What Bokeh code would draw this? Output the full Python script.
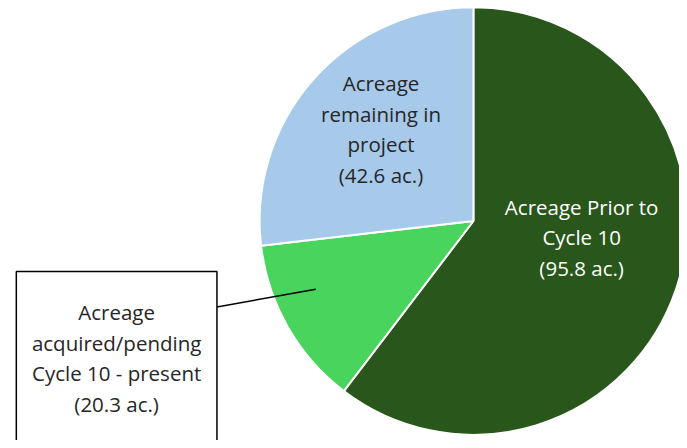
import math
from bokeh.plotting import figure
from bokeh.models import Range1d
from bokeh.core.properties import value
from bokeh.embed import file_html
from bokeh.resources import INLINE

# ---- data ----
labels = [
    "Acreage Prior to\nCycle 10\n(95.8 ac.)",
    "Acreage\nacquired/pending\nCycle 10 - present\n(20.3 ac.)",
    "Acreage\nremaining in\nproject\n(42.6 ac.)",
]
acres = [95.8, 20.3, 42.6]
colors = ["#29561a", "#48d45d", "#a7c9ea"]
text_colors = ["#ffffff", "#262626", "#262626"]

W, H = 679, 440
p = figure(width=W, height=H, output_backend="svg", toolbar_location=None,
           x_range=Range1d(0, W), y_range=Range1d(0, H), min_border=0)
p.axis.visible = False
p.grid.visible = False
p.outline_line_color = None
p.background_fill_color = "white"

KX, KY = W / 687, H / 448
def sx(x):
    return x * KX
def sy(y):
    return H - y * KY

# pie
cx, cy, r = sx(478.5), sy(224.5), 217 * (KX + KY) / 2
total = sum(acres)
starts, ends = [], []
a = math.pi / 2
for v in acres:
    starts.append(a)
    a -= 2 * math.pi * v / total
    ends.append(a)
p.wedge(x=[cx] * 3, y=[cy] * 3, radius=r, start_angle=starts, end_angle=ends,
        direction="clock", fill_color=colors, line_color="white", line_width=2)

font = value("Open Sans")
fs = "20.5px"
lh = 1.09

# labels inside slices
p.text(x=[sx(588)], y=[sy(241)], text=[labels[0]], text_align="center",
       text_baseline="middle", text_color=text_colors[0], text_font=font,
       text_font_size=fs, text_line_height=lh)
p.text(x=[sx(385)], y=[sy(131)], text=[labels[2]], text_align="center",
       text_baseline="middle", text_color=text_colors[2], text_font=font,
       text_font_size=fs, text_line_height=lh)

# callout box for small slice
p.quad(left=[sx(16)], right=[sx(219)], top=[sy(276)], bottom=[-30],
       fill_color="white", line_color="black", line_width=1.5)
p.line(x=[sx(219), sx(319)], y=[sy(312), sy(294)], line_color="black", line_width=1.5)
p.text(x=[sx(117.5)], y=[sy(364)], text=[labels[1]], text_align="center",
       text_baseline="middle", text_color=text_colors[1], text_font=font,
       text_font_size=fs, text_line_height=lh)

open("out.html", "w").write(file_html(p, INLINE))
